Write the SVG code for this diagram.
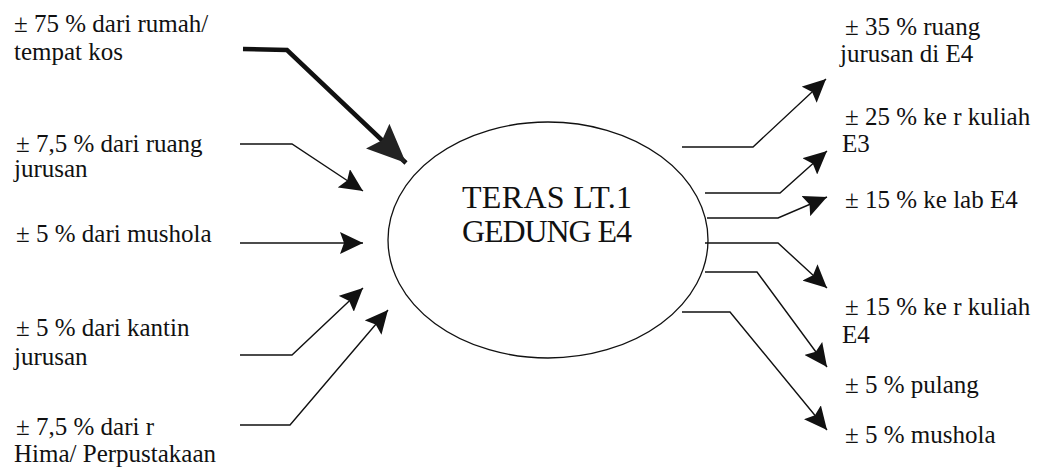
<svg xmlns="http://www.w3.org/2000/svg" width="1045" height="468" viewBox="0 0 1045 468">
<style>
.t{font-family:'Liberation Serif','DejaVu Serif',Tinos,'Times New Roman',serif;font-size:25px;fill:#111}
.c{font-family:'Liberation Serif','DejaVu Serif',Tinos,'Times New Roman',serif;font-size:32px;fill:#111;text-anchor:middle}
.ln{fill:none;stroke:#111;stroke-width:1.4}
.thick{fill:none;stroke:#111;stroke-width:4.5}
</style>
<defs>
<marker id="ah" markerUnits="userSpaceOnUse" markerWidth="24" markerHeight="22" refX="23" refY="11" orient="auto">
<path d="M0,0 L23,11 L0,22 L4,11 z" fill="#111"/>
</marker>
<marker id="ahb" markerUnits="userSpaceOnUse" markerWidth="40" markerHeight="34" refX="39" refY="17" orient="auto">
<path d="M0,0 L39,17 L0,34 L6,17 z" fill="#222"/>
</marker>
</defs>
<rect width="1045" height="468" fill="#fff"/>

<g id="center">
<ellipse cx="548" cy="240" rx="160" ry="118" fill="none" stroke="#111" stroke-width="1.3"/>
<text class="c" x="547" y="208" textLength="170" font-family="Liberation Serif, serif">TERAS LT.1</text>
<text class="c" x="547" y="242" textLength="170" font-family="Liberation Serif, serif">GEDUNG E4</text>
</g>

<g id="in1"><text class="t" x="14" y="32">± 75 % dari rumah/</text><text class="t" x="14" y="60">tempat kos</text></g>
<g id="in2"><text class="t" x="16" y="152">± 7,5 % dari ruang</text><text class="t" x="14" y="177">jurusan</text></g>
<g id="in3"><text class="t" x="16" y="242">± 5 % dari mushola</text></g>
<g id="in4"><text class="t" x="16" y="336">± 5 % dari kantin</text><text class="t" x="14" y="365">jurusan</text></g>
<g id="in5"><text class="t" x="16" y="435">± 7,5 % dari r</text><text class="t" x="14" y="462">Hima/ Perpustakaan</text></g>

<g id="out1"><text class="t" x="845" y="35">± 35 % ruang</text><text class="t" x="840" y="62">jurusan di E4</text></g>
<g id="out2"><text class="t" x="845" y="125">± 25 % ke r kuliah</text><text class="t" x="842" y="152">E3</text></g>
<g id="out3"><text class="t" x="845" y="208">± 15 % ke lab E4</text></g>
<g id="out4"><text class="t" x="845" y="315">± 15 % ke r kuliah</text><text class="t" x="842" y="343">E4</text></g>
<g id="out5"><text class="t" x="845" y="393">± 5 % pulang</text></g>
<g id="out6"><text class="t" x="845" y="443">± 5 % mushola</text></g>

<g id="connectors">
<polyline class="thick" points="243,49 287,50 406,163" marker-end="url(#ahb)"/>
<polyline class="ln" points="240,144 292,144 363,191" marker-end="url(#ah)"/>
<polyline class="ln" points="240,243 363,243" marker-end="url(#ah)"/>
<polyline class="ln" points="240,355 292,355 363,288" marker-end="url(#ah)"/>
<polyline class="ln" points="240,425 290,425 388,310" marker-end="url(#ah)"/>
<polyline class="ln" points="682,147 753,147 826,79" marker-end="url(#ah)"/>
<polyline class="ln" points="705,193 780,193 827,151" marker-end="url(#ah)"/>
<polyline class="ln" points="707,218 778,218 827,197" marker-end="url(#ah)"/>
<polyline class="ln" points="705,243 778,243 827,288" marker-end="url(#ah)"/>
<polyline class="ln" points="705,272 757,272 827,367" marker-end="url(#ah)"/>
<polyline class="ln" points="682,312 730,312 827,430" marker-end="url(#ah)"/>
</g>
</svg>
